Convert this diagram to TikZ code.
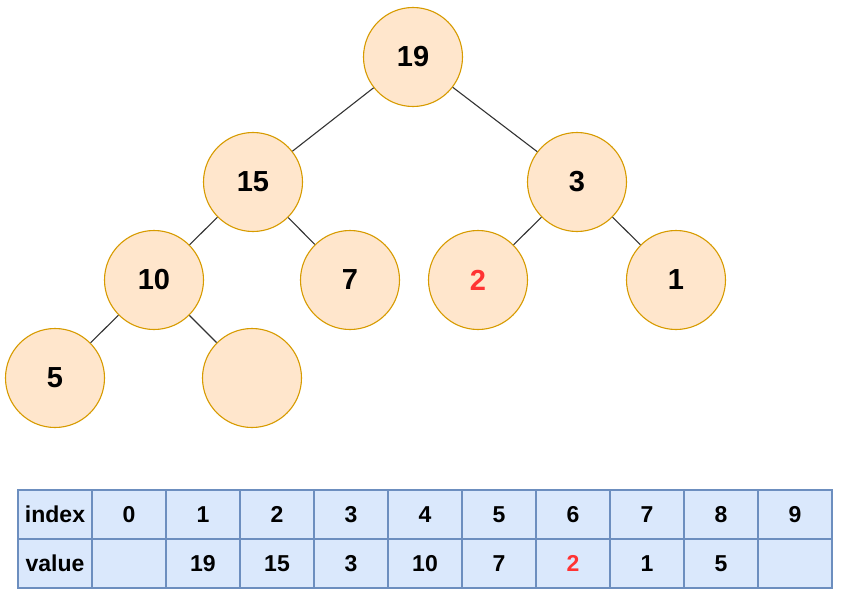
\documentclass[tikz,border=0pt]{standalone}
\usepackage{fontspec}
\setmainfont{Liberation Sans}
\usepackage{tikz}
\definecolor{heapfill}{HTML}{FFE6CC}
\definecolor{heapline}{HTML}{D79B00}
\definecolor{cellfill}{HTML}{DAE8FC}
\definecolor{cellline}{HTML}{6C8EBF}
\definecolor{hot}{HTML}{FF3333}
\tikzset{
	heap/.style={circle, draw=heapline, fill=heapfill, line width=1.1pt, minimum size=99pt, inner sep=0pt, font=\fontsize{29}{34}\selectfont\bfseries},
	edge/.style={draw=black!80, line width=1.1pt},
	cell/.style={rectangle, draw=cellline, fill=cellfill, line width=1.1pt, minimum width=74pt, minimum height=49pt, inner sep=0pt, font=\fontsize{23}{28}\selectfont\bfseries}
}

\begin{document}
\begin{tikzpicture}[x=1pt,y=-1pt]
	\useasboundingbox (0,0) rectangle (848,607);
	% tree
	\node[heap] (19) at (413,57) {19};
	\node[heap] (15) at (253,182) {15};
	\node[heap] (3) at (577,182) {3};
	\node[heap] (10) at (154,280) {10};
	\node[heap] (7) at (350,280) {7};
	\node[heap] (2) at (478,280) {\textcolor{hot}{2}};
	\node[heap] (1) at (676,280) {1};
	\node[heap] (5) at (55,378) {5};
	\node[heap] (e) at (252,378) {};
	
	\draw[edge] (19) -- (15);
	\draw[edge] (19) -- (3);
	\draw[edge] (15) -- (10);
	\draw[edge] (15) -- (7);
	\draw[edge] (3) -- (2);
	\draw[edge] (3) -- (1);
	\draw[edge] (10) -- (5);
	\draw[edge] (10) -- (e);
	
	% array
	\node[cell] (i) at (55,514.5) {index};
	\node[cell] (v) at (55,563.5) {value};
	\foreach \k/\val in {0/, 1/19, 2/15, 3/3, 4/10, 5/7, 6/\textcolor{hot}{2}, 7/1, 8/5, 9/} {
		\node[cell] (i\k) at (129+74*\k,514.5) {\k};
		\node[cell] (v\k) at (129+74*\k,563.5) {\val};
	}
\end{tikzpicture}
\end{document}
